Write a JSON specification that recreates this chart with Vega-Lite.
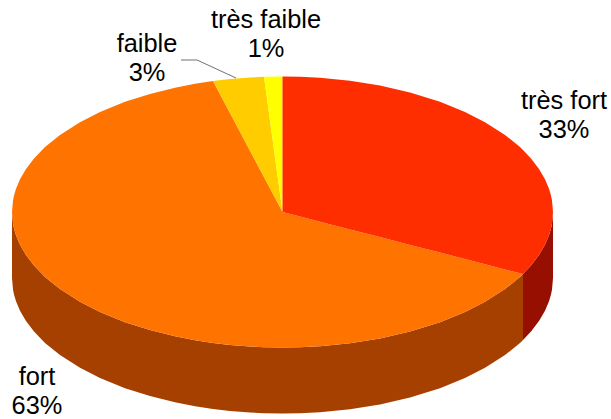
{"$schema":"https://vega.github.io/schema/vega-lite/v6.json","width":611,"height":419,"padding":0,"autosize":{"type":"none"},"background":"white","config":{"view":{"stroke":null}},
"datasets":{
"outline":[
{"p":"fort côté","x":12,"a":212,"b":278},{"p":"fort côté","x":13,"a":223.6,"b":289.6},{"p":"fort côté","x":14,"a":228.5,"b":294.5},{"p":"fort côté","x":16,"a":235.2,"b":301.2},{"p":"fort côté","x":20,"a":244.7,"b":310.7},{"p":"fort côté","x":26,"a":255,"b":321},{"p":"fort côté","x":34,"a":265.5,"b":331.5},{"p":"fort côté","x":45,"a":276.9,"b":342.9},{"p":"fort côté","x":60,"a":289.1,"b":355.1},{"p":"fort côté","x":80,"a":301.8,"b":367.8},{"p":"fort côté","x":100,"a":312,"b":378},{"p":"fort côté","x":125,"a":322.2,"b":388.2},{"p":"fort côté","x":150,"a":330.1,"b":396.1},{"p":"fort côté","x":175,"a":336.3,"b":402.3},{"p":"fort côté","x":195,"a":340.2,"b":406.2},{"p":"fort côté","x":213,"a":343,"b":409},{"p":"fort côté","x":230,"a":344.9,"b":410.9},{"p":"fort côté","x":250,"a":346.5,"b":412.5},{"p":"fort côté","x":264,"a":347.2,"b":413.2},{"p":"fort côté","x":282.5,"a":347.5,"b":413.5},{"p":"fort côté","x":300,"a":347.2,"b":413.2},{"p":"fort côté","x":320,"a":346.2,"b":412.2},{"p":"fort côté","x":350,"a":343.2,"b":409.2},{"p":"fort côté","x":380,"a":338.4,"b":404.4},{"p":"fort côté","x":410,"a":331.5,"b":397.5},{"p":"fort côté","x":440,"a":322.2,"b":388.2},{"p":"fort côté","x":465,"a":312,"b":378},{"p":"fort côté","x":485,"a":301.8,"b":367.8},{"p":"fort côté","x":505,"a":289.1,"b":355.1},{"p":"fort côté","x":520,"a":276.9,"b":342.9},{"p":"fort côté","x":523,"a":274,"b":340},
{"p":"très fort côté","x":523,"a":274,"b":340},{"p":"très fort côté","x":531,"a":265.5,"b":331.5},{"p":"très fort côté","x":539,"a":255,"b":321},{"p":"très fort côté","x":545,"a":244.7,"b":310.7},{"p":"très fort côté","x":549,"a":235.2,"b":301.2},{"p":"très fort côté","x":551,"a":228.5,"b":294.5},{"p":"très fort côté","x":552,"a":223.6,"b":289.6},{"p":"très fort côté","x":553,"a":212,"b":278},
{"p":"fort","x":12,"a":212,"b":212},{"p":"fort","x":13,"a":200.4,"b":223.6},{"p":"fort","x":14,"a":195.5,"b":228.5},{"p":"fort","x":16,"a":188.8,"b":235.2},{"p":"fort","x":20,"a":179.3,"b":244.7},{"p":"fort","x":26,"a":169,"b":255},{"p":"fort","x":34,"a":158.5,"b":265.5},{"p":"fort","x":45,"a":147.1,"b":276.9},{"p":"fort","x":60,"a":134.9,"b":289.1},{"p":"fort","x":80,"a":122.2,"b":301.8},{"p":"fort","x":100,"a":112,"b":312},{"p":"fort","x":125,"a":101.8,"b":322.2},{"p":"fort","x":150,"a":93.9,"b":330.1},{"p":"fort","x":175,"a":87.7,"b":336.3},{"p":"fort","x":195,"a":83.8,"b":340.2},{"p":"fort","x":213,"a":81,"b":343},{"p":"fort","x":230,"a":113,"b":344.9},{"p":"fort","x":250,"a":150.7,"b":346.5},{"p":"fort","x":264,"a":177.1,"b":347.2},{"p":"fort","x":282.5,"a":212,"b":347.5},{"p":"fort","x":300,"a":216.5,"b":347.2},{"p":"fort","x":320,"a":221.7,"b":346.2},{"p":"fort","x":350,"a":229.4,"b":343.2},{"p":"fort","x":380,"a":237.1,"b":338.4},{"p":"fort","x":410,"a":244.9,"b":331.5},{"p":"fort","x":440,"a":252.6,"b":322.2},{"p":"fort","x":465,"a":259,"b":312},{"p":"fort","x":485,"a":264.2,"b":301.8},{"p":"fort","x":505,"a":269.4,"b":289.1},{"p":"fort","x":520,"a":273.2,"b":276.9},{"p":"fort","x":523,"a":274,"b":274},
{"p":"faible","x":213,"a":81,"b":81},{"p":"faible","x":230,"a":79.1,"b":113},{"p":"faible","x":250,"a":77.5,"b":150.7},{"p":"faible","x":264,"a":76.8,"b":177.1},{"p":"faible","x":270,"a":120.6,"b":188.4},{"p":"faible","x":282.5,"a":212,"b":212},
{"p":"très faible","x":264,"a":76.8,"b":76.8},{"p":"très faible","x":282.5,"a":76.5,"b":212},
{"p":"très fort","x":282.5,"a":76.5,"b":212},{"p":"très fort","x":300,"a":76.8,"b":216.5},{"p":"très fort","x":320,"a":77.8,"b":221.7},{"p":"très fort","x":350,"a":80.8,"b":229.4},{"p":"très fort","x":380,"a":85.6,"b":237.1},{"p":"très fort","x":410,"a":92.5,"b":244.9},{"p":"très fort","x":440,"a":101.8,"b":252.6},{"p":"très fort","x":465,"a":112,"b":259},{"p":"très fort","x":485,"a":122.2,"b":264.2},{"p":"très fort","x":505,"a":134.9,"b":269.4},{"p":"très fort","x":520,"a":147.1,"b":273.2},{"p":"très fort","x":523,"a":150,"b":274},{"p":"très fort","x":531,"a":158.5,"b":265.5},{"p":"très fort","x":539,"a":169,"b":255},{"p":"très fort","x":545,"a":179.3,"b":244.7},{"p":"très fort","x":549,"a":188.8,"b":235.2},{"p":"très fort","x":551,"a":195.5,"b":228.5},{"p":"très fort","x":552,"a":200.4,"b":223.6},{"p":"très fort","x":553,"a":212,"b":212}
],
"shares":[
{"niveau":"très fort","part":33,"label":"très fort\n33%","x":564,"y":109},
{"niveau":"fort","part":63,"label":"fort\n63%","x":37,"y":385},
{"niveau":"faible","part":3,"label":"faible\n3%","x":147,"y":52},
{"niveau":"très faible","part":1,"label":"très faible\n1%","x":266,"y":28}
],
"leader":[{"x":181,"y":60,"o":1},{"x":197,"y":60,"o":2},{"x":236,"y":78,"o":3}]
},
"layer":[
{"data":{"name":"outline"},"mark":{"type":"area","interpolate":"linear"},
"encoding":{
"x":{"field":"x","type":"quantitative","scale":{"domain":[0,611],"nice":false,"zero":false},"axis":null},
"y":{"field":"a","type":"quantitative","scale":{"domain":[419,0],"nice":false,"zero":false},"axis":null},
"y2":{"field":"b"},
"color":{"field":"p","type":"nominal","legend":null,"sort":null,"scale":{"domain":["fort côté","très fort côté","fort","faible","très faible","très fort"],"range":["#a64000","#960f00","#ff7300","#ffcc00","#ffff00","#ff2e00"]}}
}},
{"data":{"name":"leader"},"mark":{"type":"line","color":"#707070","strokeWidth":1},
"encoding":{"x":{"field":"x","type":"quantitative"},"y":{"field":"y","type":"quantitative"},"order":{"field":"o","type":"ordinal"}}},
{"data":{"name":"shares"},"mark":{"type":"text","font":"Liberation Sans","fontSize":25.4,"lineBreak":"\n","lineHeight":29,"align":"center","baseline":"alphabetic","color":"black"},
"encoding":{"x":{"field":"x","type":"quantitative"},"y":{"field":"y","type":"quantitative"},"text":{"field":"label"}}}
]}
